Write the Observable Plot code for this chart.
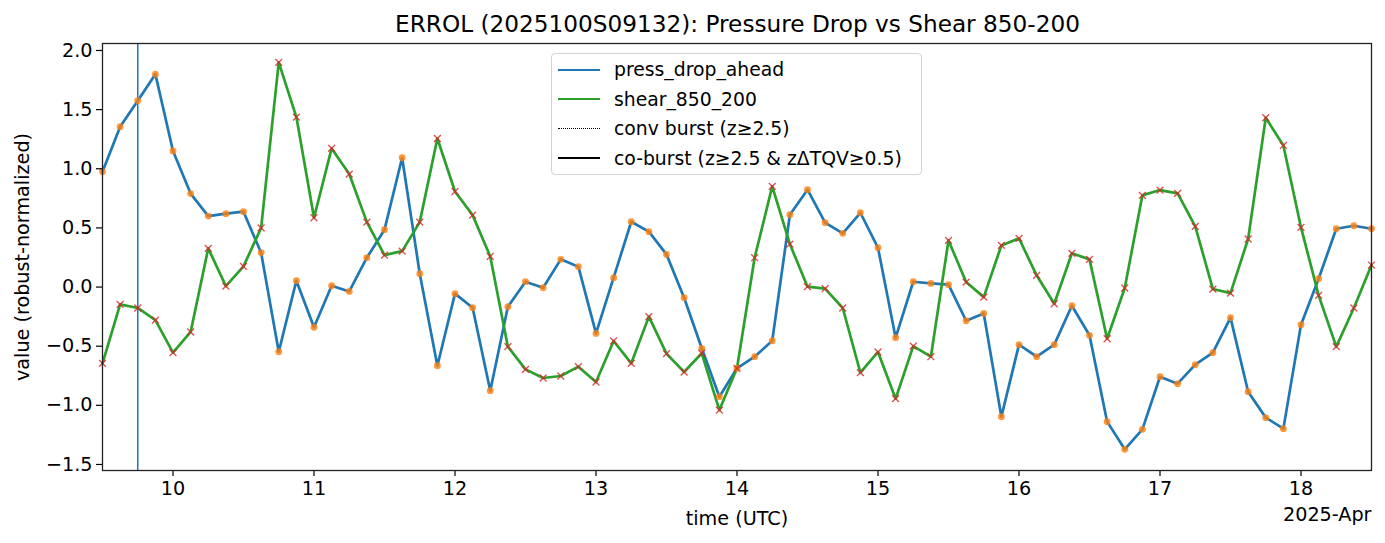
<!DOCTYPE html>
<html>
<head>
<meta charset="utf-8">
<script src="https://cdn.jsdelivr.net/npm/d3@7"></script>
<script src="https://cdn.jsdelivr.net/npm/@observablehq/plot@0.6"></script>
<style>
  html, body { margin: 0; padding: 0; background: #fff; }
  body { width: 1385px; height: 543px; position: relative; overflow: hidden; font-family: "DejaVu Sans", sans-serif; }
  #title { height: 36px; line-height: 36px; padding-top: 6px; box-sizing: border-box; text-align: center; font-size: 23.2px; color: #000; padding-left: 90px; white-space: nowrap; }
  #legend { position: absolute; left: 551px; top: 53px; width: 371px; height: 122px; box-sizing: border-box;
            border: 1px solid #d3d3d3; border-radius: 4px; background: rgba(255,255,255,0.85); font-size: 18.8px; }
  .row { position: absolute; left: 0; height: 22px; }
  .sw { position: absolute; left: 6px; width: 42px; height: 0; }
  .lab { position: absolute; left: 62px; top: 0; line-height: 22px; white-space: nowrap; }
</style>
</head>
<body>
<div id="title">ERROL (2025100S09132): Pressure Drop vs Shear 850-200</div>
<div id="chart"></div>
<div id="legend"></div>
<script>
// --- data (3-hourly, starting 2025-04-09 12:00 UTC) ---
const startUTC = Date.UTC(2025, 3, 9, 12);
const stepHours = 3;
const pressDropAhead = [
  0.975, 1.355, 1.575, 1.80, 1.15, 0.79, 0.60, 0.62, 0.637, 0.29, -0.547, 0.054, -0.34,
  0.011, -0.037, 0.248, 0.485, 1.093, 0.113, -0.665, -0.056, -0.175, -0.876, -0.166, 0.045,
  -0.006, 0.234, 0.172, -0.392, 0.079, 0.552, 0.468, 0.276, -0.09, -0.518, -0.927,
  -0.687, -0.589, -0.454, 0.611, 0.823, 0.544, 0.454, 0.628, 0.332, -0.428, 0.045, 0.031,
  0.02, -0.285, -0.223, -1.096, -0.487, -0.589, -0.487, -0.158, -0.408, -1.138, -1.372, -1.203,
  -0.758, -0.817, -0.656, -0.555, -0.259, -0.885, -1.104, -1.197, -0.318, 0.07, 0.493, 0.518, 0.493
];
const shear850200 = [
  -0.645, -0.146, -0.177, -0.28, -0.555, -0.38, 0.327, 0.008, 0.175, 0.50, 1.90, 1.437, 0.586,
  1.172, 0.955, 0.549, 0.27, 0.304, 0.549, 1.256, 0.808, 0.608, 0.259, -0.504, -0.696,
  -0.769, -0.752, -0.673, -0.803, -0.456, -0.645, -0.25, -0.563, -0.718, -0.56, -1.04,
  -0.687, 0.248, 0.851, 0.363, 0.003, -0.014, -0.177, -0.724, -0.549, -0.944, -0.499, -0.589,
  0.394, 0.042, -0.085, 0.352, 0.411, 0.099, -0.141, 0.285, 0.234, -0.437, -0.008, 0.775,
  0.82, 0.792, 0.513, -0.017, -0.051, 0.406, 1.431, 1.197, 0.504, -0.07, -0.504, -0.177, 0.186
];
const convBurstTimes = [Date.UTC(2025, 3, 9, 18)];
const yTicks = [-1.5, -1.0, -0.5, 0.0, 0.5, 1.0, 1.5, 2.0];
const xTickDays = [10, 11, 12, 13, 14, 15, 16, 17, 18];
const xDomain = [new Date(Date.UTC(2025, 3, 9, 12)), new Date(Date.UTC(2025, 3, 18, 12))];
const yDomain = [-1.551, 2.059];

const times = pressDropAhead.map((_, i) => new Date(startUTC + i * stepHours * 3600e3));
const press = times.map((t, i) => ({t, v: pressDropAhead[i]}));
const shear = times.map((t, i) => ({t, v: shear850200[i]}));
const bursts = convBurstTimes.map(t => ({t: new Date(t)}));
const xTicks = xTickDays.map(d => new Date(Date.UTC(2025, 3, d)));

const C_BLUE = "#1f77b4", C_GREEN = "#2ca02c", C_ORANGE = "#ff7f0e", C_RED = "#d62728";
const FS = 19.2;

const chart = Plot.plot({
  width: 1385,
  height: 507,
  marginTop: 7,
  marginLeft: 102,
  marginRight: 14,
  marginBottom: 73,
  style: {fontFamily: "DejaVu Sans, sans-serif", fontSize: FS + "px", color: "#000", background: "#fff", overflow: "visible"},
  x: {type: "utc", domain: xDomain, label: null},
  y: {domain: yDomain, label: null},
  marks: [
    Plot.ruleX(bursts, {x: "t", stroke: C_BLUE, strokeWidth: 1.5}),
    Plot.line(press, {x: "t", y: "v", stroke: C_BLUE, strokeWidth: 2.7}),
    Plot.line(shear, {x: "t", y: "v", stroke: C_GREEN, strokeWidth: 2.7}),
    Plot.dot(press, {x: "t", y: "v", r: 3.4, fill: C_ORANGE, fillOpacity: 0.8, stroke: "none"}),
    Plot.dot(shear, {x: "t", y: "v", r: 3.2, symbol: "times", stroke: C_RED, strokeOpacity: 0.8, strokeWidth: 1.4}),
    Plot.axisX({ticks: xTicks, tickFormat: d => String(d.getUTCDate()), tickSize: 6, tickPadding: 5, label: null, fontSize: FS, strokeWidth: 1.2}),
    Plot.axisY({ticks: yTicks, tickFormat: d3.format(".1f"), tickSize: 6, tickPadding: 4, label: null, fontSize: FS, strokeWidth: 1.2}),
    Plot.frame({stroke: "#222", strokeWidth: 1.3}),
    Plot.text(["time (UTC)"], {frameAnchor: "bottom", dy: 54, fontSize: FS, fill: "#000"}),
    Plot.text(["2025-Apr"], {frameAnchor: "bottom-right", textAnchor: "end", dy: 50, fontSize: FS, fill: "#000"}),
    Plot.text(["value (robust-normalized)"], {frameAnchor: "left", textAnchor: "middle", rotate: -90, dx: -80, fontSize: FS, fill: "#000"})
  ]
});
document.getElementById("chart").appendChild(chart);

// legend
const legendItems = [
  {label: "press_drop_ahead", color: C_BLUE, dash: "solid", w: 2.8},
  {label: "shear_850_200", color: C_GREEN, dash: "solid", w: 2.8},
  {label: "conv burst (z\u22652.5)", color: "#000", dash: "dotted", w: 1.5},
  {label: "co-burst (z\u22652.5 & z\u0394TQV\u22650.5)", color: "#000", dash: "solid", w: 2.2}
];
const lg = document.getElementById("legend");
legendItems.forEach((it, i) => {
  const row = document.createElement("div");
  row.className = "row";
  row.style.top = (5 + i * 29.5) + "px";
  const sw = document.createElement("div");
  sw.className = "sw";
  sw.style.borderTop = `${it.w}px ${it.dash} ${it.color}`;
  sw.style.top = (11 - it.w / 2) + "px";
  const lab = document.createElement("div");
  lab.className = "lab";
  lab.textContent = it.label;
  row.appendChild(sw); row.appendChild(lab);
  lg.appendChild(row);
});
</script>
</body>
</html>
